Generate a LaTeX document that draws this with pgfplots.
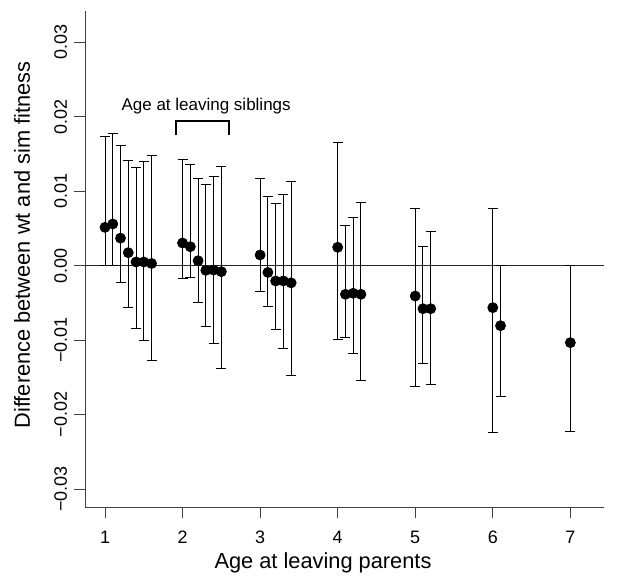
\documentclass[border=0pt]{standalone}
\usepackage{pgfplots}
\pgfplotsset{compat=1.18}
\usepackage{pgfplotstable}
\usepackage{fontspec}
\setmainfont{Liberation Sans}

\pgfplotstableread{
x y lo hi
1.0 0.00515 0.0 0.0174
1.1 0.0056 0.0 0.0177
1.2 0.0037 -0.0022 0.0161
1.3 0.00175 -0.0056 0.01415
1.4 0.0005 -0.0084 0.01316
1.5 0.0005 -0.0101 0.0140
1.6 0.0003 -0.01275 0.01486
2.0 0.00305 -0.00174 0.0142
2.1 0.00255 -0.0016 0.01356
2.2 0.00067 -0.0049 0.01168
2.3 -0.00062 -0.0081 0.01093
2.4 -0.00058 -0.01038 0.0120
2.5 -0.0008 -0.01382 0.01334
3.0 0.00144 -0.0034 0.01177
3.1 -0.0009 -0.00545 0.00926
3.2 -0.00205 -0.00854 0.00832
3.3 -0.00205 -0.0111 0.00953
3.4 -0.0023 -0.0148 0.01133
4.0 0.00247 -0.00984 0.0165
4.1 -0.00384 -0.0096 0.00546
4.2 -0.0037 -0.0118 0.0065
4.3 -0.00384 -0.01538 0.00846
5.0 -0.00407 -0.01628 0.00765
5.1 -0.00577 -0.0131 0.00255
5.2 -0.00577 -0.016 0.00461
6.0 -0.00563 -0.0224 0.0077
6.1 -0.00805 -0.01758 0.0
7.0 -0.01033 -0.0222 0.0
}\datatable

\begin{document}
\begin{tikzpicture}
\path[use as bounding box] (-42.5pt,-35.35pt) rectangle (269.5pt,253.65pt);
\begin{axis}[
  at={(0pt,0pt)}, anchor=south west,
  scale only axis, width=259.5pt, height=248.15pt,
  xmin=0.742, xmax=7.434, ymin=-0.03243, ymax=0.03419,
  axis lines=left,
  axis line style={-, line width=0.5pt, black!75},
  tick align=outside, major tick length=5.5pt,
  tick style={line width=0.5pt, black!75},
  xtick={1,2,3,4,5,6,7},
  ytick={-0.03,-0.02,-0.01,0,0.01,0.02,0.03},
  yticklabels={−0.03,−0.02,−0.01,0.00,0.01,0.02,0.03},
  scaled y ticks=false,
  /pgf/number format/assume math mode=true,
  xticklabel style={font=\fontsize{9}{10}\selectfont, yshift=-3pt},
  yticklabel style={rotate=90, anchor=south, font=\fontsize{9}{10}\selectfont},
  xlabel={Age at leaving parents},
  ylabel={Difference between wt and sim fitness},
  xlabel style={at={(axis description cs:0.4586,-0.1128)}, anchor=center, font=\fontsize{10.9}{13}\selectfont},
  ylabel style={at={(axis description cs:-0.1214,0.5285)}, anchor=center, font=\fontsize{10.9}{13}\selectfont},
  clip=false,
]
\addplot[black!85, line width=0.5pt, forget plot] coordinates {(0.742,0) (7.434,0)};
\addplot[only marks, mark=*, mark size=2.5pt, black,
  error bars/.cd, y dir=both, y explicit,
  error bar style={line width=0.5pt, black},
  error mark options={rotate=90, mark size=2.5pt, line width=0.5pt, black}]
  table[x=x, y=y, y error plus expr=\thisrow{hi}-\thisrow{y}, y error minus expr=\thisrow{y}-\thisrow{lo}] {\datatable};
\addplot[black, line width=1pt, forget plot] coordinates {(1.915,0.01754) (1.915,0.01942) (2.594,0.01942) (2.594,0.01754)};
\node[anchor=base, font=\fontsize{8.5}{10}\selectfont, inner sep=0pt] at (axis cs:2.304,0.0209) {Age at leaving siblings};
\end{axis}
\end{tikzpicture}
\end{document}
